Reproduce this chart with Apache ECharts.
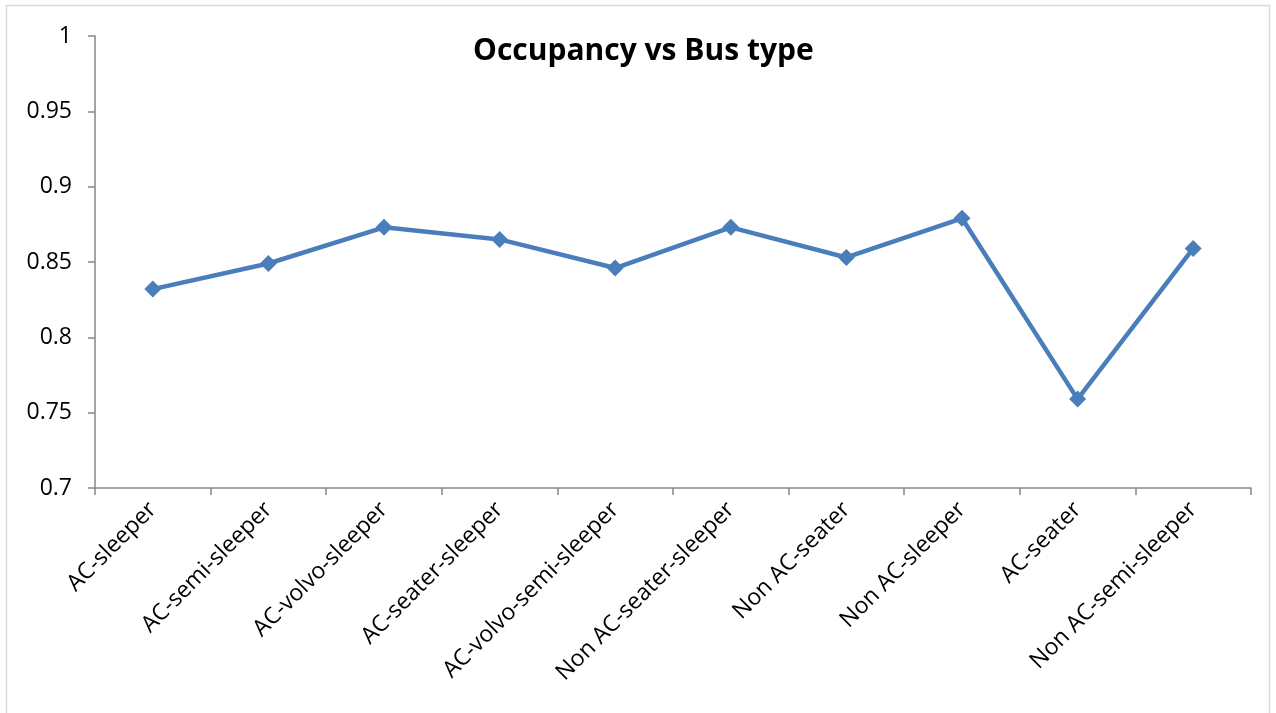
<!DOCTYPE html>
<html><head><meta charset="utf-8">
<script src="https://cdn.jsdelivr.net/npm/echarts@6/dist/echarts.min.js"></script>
<style>html,body{margin:0;padding:0;background:#fff}#c{width:1276px;height:713px}</style>
</head><body><div id="c"></div>
<script>
const categories = ['AC-sleeper','AC-semi-sleeper','AC-volvo-sleeper','AC-seater-sleeper','AC-volvo-semi-sleeper','Non AC-seater-sleeper','Non AC-seater','Non AC-sleeper','AC-seater','Non AC-semi-sleeper'];
const occupancy = [0.832, 0.849, 0.873, 0.865, 0.846, 0.873, 0.853, 0.879, 0.759, 0.859];
const yTicks = {min: 0.7, max: 1, interval: 0.05};
const font = '"Open Sans", "Liberation Sans", sans-serif';
const chart = echarts.init(document.getElementById('c'));
chart.setOption({
  animation: false,
  backgroundColor: '#fff',
  graphic: [{type:'rect', shape:{x:6.5,y:5.5,width:1263,height:720}, style:{fill:'none', stroke:'#d9d9d9', lineWidth:1.5}, silent:true}],
  title: {text: 'Occupancy vs Bus type', left: 468, top: 31, textStyle:{fontFamily: font, fontSize: 30, fontWeight:'bold', color:'#000'}},
  grid: {left: 95, right: 25, top: 36, bottom: 225},
  xAxis: {
    type: 'category', data: categories, boundaryGap: true,
    axisLine: {lineStyle:{color:'#868686', width:1.5}},
    axisTick: {show:true, length:7, alignWithLabel:false, lineStyle:{color:'#868686', width:1.5}},
    axisLabel: {rotate:45, margin:18, interval:0, fontFamily: font, fontSize:23, color:'#000'},
    splitLine: {show:false}
  },
  yAxis: {
    type: 'value', min: yTicks.min, max: yTicks.max, interval: yTicks.interval,
    axisLine: {show:true, lineStyle:{color:'#868686', width:1.5}},
    axisTick: {show:true, length:7, lineStyle:{color:'#868686', width:1.5}},
    axisLabel: {margin:23, fontFamily: font, fontSize:23, color:'#000', formatter: v => String(+v.toFixed(2))},
    splitLine: {show:false}
  },
  series: [{
    type: 'line', data: occupancy, symbol: 'diamond', symbolSize: 17,
    lineStyle: {color:'#4a7ebb', width:4.5},
    itemStyle: {color:'#4a7ebb'}
  }]
});
</script></body></html>
